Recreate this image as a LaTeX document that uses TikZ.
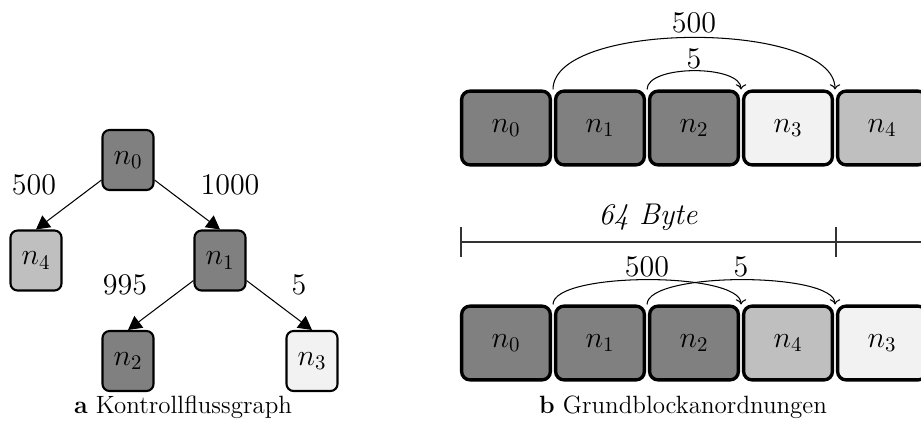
\documentclass[tikz,border=0pt]{standalone}
\usepackage{fontspec}
\usetikzlibrary{arrows.meta,calc}
\definecolor{cdark}{gray}{0.5}
\definecolor{clight}{gray}{0.75}
\definecolor{cpale}{gray}{0.95}
\tikzset{
  gbox/.style={draw=black, line width=1pt, rounded corners=3.4pt,
    minimum width=24.5pt, minimum height=28.8pt, inner sep=0pt, font=\Large},
  lbox/.style={draw=black, line width=1.6pt, rounded corners=4pt,
    minimum width=42.6pt, minimum height=35.4pt, inner sep=0pt, font=\Large},
  gedge/.style={line width=0.5pt, -{Triangle[length=6.5pt,width=7pt]}},
  arcline/.style={line width=0.5pt, -{To[length=2.5pt,width=5pt]}},
  wlabel/.style={font=\Large, inner sep=0pt},
  captext/.style={font=\fontsize{12}{14}\selectfont, inner sep=0pt, anchor=base},
}
\begin{document}
\begin{tikzpicture}[x=0.48pt, y=-0.48pt]
\useasboundingbox (0,0) rectangle (921,430);
% ---------- (a) control flow graph
\node[gbox, fill=cdark]  (g0) at (128,160) {$n_0$};
\node[gbox, fill=clight] (g4) at (36,260.5) {$n_4$};
\node[gbox, fill=cdark]  (g1) at (220,260.5) {$n_1$};
\node[gbox, fill=cdark]  (g2) at (128,361) {$n_2$};
\node[gbox, fill=cpale]  (g3) at (312,361) {$n_3$};
\draw[gedge] (g0) -- (g4.north);
\draw[gedge] (g0) -- (g1.north);
\draw[gedge] (g1) -- (g2.north);
\draw[gedge] (g1) -- (g3.north);
\node[wlabel] (w04) at (34,185) {500};
\node[wlabel] (w01) at (230,185) {1000};
\node[wlabel] (w12) at (125,285) {995};
\node[wlabel] (w13) at (299,285) {5};
\node[captext] (capa) at (183,413) {\textbf{a} Kontrollflussgraph};
% ---------- (b) layouts, row 1
\node[lbox, fill=cdark]  (a0) at (506,128) {$n_0$};
\node[lbox, fill=cdark]  (a1) at (600,128) {$n_1$};
\node[lbox, fill=cdark]  (a2) at (694,128) {$n_2$};
\node[lbox, fill=cpale]  (a3) at (788,128) {$n_3$};
\node[lbox, fill=clight] (a4) at (882,128) {$n_4$};
\coordinate (a01) at ($(a0.north east)!0.5!(a1.north west)$);
\coordinate (a12) at ($(a1.north east)!0.5!(a2.north west)$);
\coordinate (a23) at ($(a2.north east)!0.5!(a3.north west)$);
\coordinate (a34) at ($(a3.north east)!0.5!(a4.north west)$);
\draw[arcline] (a01) to[out=90,in=90,looseness=0.63]
  node[pos=0.5, above=2pt, wlabel] (l500a) {500} (a34);
\draw[arcline] (a12) to[out=90,in=90,looseness=0.68]
  node[pos=0.5, above=0.5pt, wlabel] (l5a) {5} (a23);
% ruler
\coordinate (rL) at (461,242);
\coordinate (rM) at (836,242);
\coordinate (rR) at (1000,242);
\draw[black!80, line width=0.7pt] (rL) -- (rR);
\draw[black!80, line width=0.7pt] ($(rL)+(0,-15)$) -- ($(rL)+(0,15)$);
\draw[black!80, line width=0.7pt] ($(rM)+(0,-15)$) -- ($(rM)+(0,15)$);
\node[font=\Large\itshape, inner sep=0pt] (byte) at (648,217) {64 Byte};
% row 2
\node[lbox, fill=cdark]  (b0) at (506,343) {$n_0$};
\node[lbox, fill=cdark]  (b1) at (600,343) {$n_1$};
\node[lbox, fill=cdark]  (b2) at (694,343) {$n_2$};
\node[lbox, fill=clight] (b3) at (788,343) {$n_4$};
\node[lbox, fill=cpale]  (b4) at (882,343) {$n_3$};
\coordinate (b01) at ($(b0.north east)!0.5!(b1.north west)$);
\coordinate (b12) at ($(b1.north east)!0.5!(b2.north west)$);
\coordinate (b23) at ($(b2.north east)!0.5!(b3.north west)$);
\coordinate (b34) at ($(b3.north east)!0.5!(b4.north west)$);
\draw[arcline] (b01) to[out=90,in=90,looseness=0.45]
  node[pos=0.5, above=1pt, wlabel] (l500b) {500} (b23);
\draw[arcline] (b12) to[out=90,in=90,looseness=0.45]
  node[pos=0.5, above=1pt, wlabel] (l5b) {5} (b34);
\node[captext] (capb) at (683,413) {\textbf{b} Grundblockanordnungen};
\end{tikzpicture}
\end{document}
